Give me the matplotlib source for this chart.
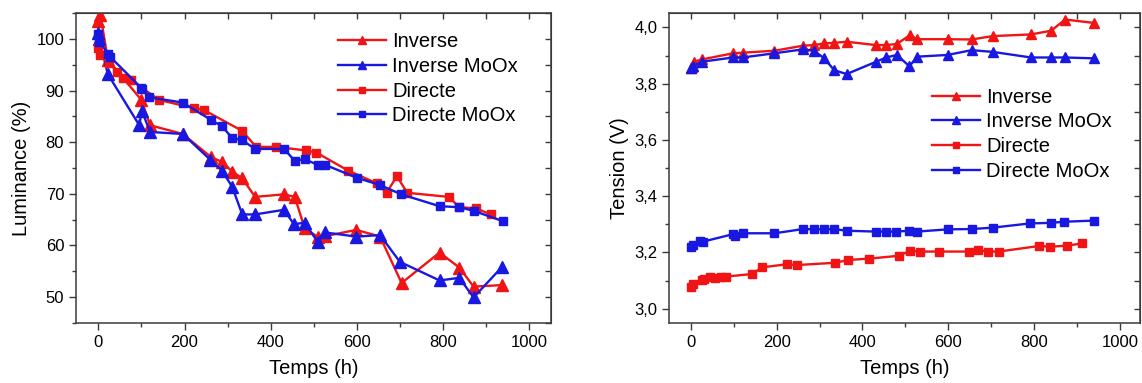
import matplotlib
matplotlib.use("Agg")
from matplotlib import pyplot as plt
from matplotlib.ticker import MultipleLocator

plt.rcParams['font.family'] = ['Liberation Sans', 'DejaVu Sans']

RED = '#f01414'
BLUE = '#1818e0'

# --- Luminance (%) vs Temps (h) ---
lum_inv_t = [0, 5, 22, 100, 120, 196, 262, 287, 311, 334, 364, 431, 456, 479,
             510, 527, 599, 654, 704, 792, 838, 871, 938]
lum_inv = [103.5, 104.6, 96.0, 88.2, 83.3, 81.6, 77.1, 76.2, 74.3, 73.0, 69.4,
           69.9, 69.4, 63.3, 61.6, 61.8, 63.0, 61.7, 52.7, 58.6, 55.7, 52.0, 52.3]

lum_inv_mo_t = [0, 2, 22, 95, 101, 120, 196, 260, 287, 311, 334, 364, 431, 454,
                479, 509, 527, 599, 654, 700, 792, 838, 871, 938]
lum_inv_mo = [101.1, 100.1, 93.2, 83.3, 86.1, 82.0, 81.6, 76.6, 74.5, 71.3, 66.0,
              66.0, 66.9, 64.1, 64.4, 60.7, 62.5, 61.7, 62.0, 56.8, 53.2, 53.7,
              49.9, 55.9]

lum_dir_t = [0, 3, 25, 44, 57, 75, 141, 223, 246, 334, 366, 413, 483, 506, 580,
             647, 669, 693, 717, 813, 838, 876, 911]
lum_dir = [98.2, 96.9, 95.3, 93.7, 92.4, 92.1, 88.2, 86.6, 86.2, 82.2, 79.1,
           79.1, 78.4, 78.0, 74.5, 72.0, 70.2, 73.4, 70.2, 69.4, 67.4, 67.2, 66.0]

lum_dir_mo_t = [0, 2, 23, 27, 99, 101, 118, 196, 262, 287, 311, 334, 364, 431,
                456, 479, 510, 527, 600, 654, 703, 792, 838, 871, 939]
lum_dir_mo = [101.0, 99.5, 97.2, 96.6, 90.6, 90.4, 88.7, 87.7, 84.3, 83.1, 80.8,
              80.4, 78.7, 78.7, 76.4, 76.7, 75.6, 75.6, 73.1, 71.7, 69.9, 67.6,
              67.4, 66.7, 64.7]

# --- Tension (V) vs Temps (h) ---
ten_inv_t = [0, 2, 8, 26, 99, 121, 195, 262, 287, 311, 334, 363, 432, 455, 480,
             511, 526, 598, 654, 703, 792, 839, 872, 938]
ten_inv = [3.855, 3.860, 3.878, 3.886, 3.908, 3.910, 3.917, 3.935, 3.937, 3.943,
           3.945, 3.949, 3.937, 3.937, 3.941, 3.973, 3.958, 3.958, 3.957, 3.969,
           3.975, 3.988, 4.028, 4.016]

ten_inv_mo_t = [0, 5, 26, 99, 121, 195, 262, 287, 311, 334, 363, 432, 455, 480,
                509, 528, 598, 654, 703, 792, 839, 872, 938]
ten_inv_mo = [3.854, 3.862, 3.878, 3.893, 3.893, 3.908, 3.922, 3.917, 3.890,
              3.848, 3.834, 3.878, 3.893, 3.902, 3.862, 3.896, 3.902, 3.919,
              3.913, 3.893, 3.893, 3.893, 3.890]

ten_dir_t = [0, 5, 26, 30, 45, 57, 70, 82, 142, 167, 225, 247, 336, 367, 416,
             485, 511, 534, 579, 647, 670, 692, 717, 812, 837, 876, 911]
ten_dir = [3.078, 3.088, 3.102, 3.104, 3.112, 3.110, 3.112, 3.114, 3.123, 3.147,
           3.158, 3.155, 3.163, 3.173, 3.178, 3.188, 3.206, 3.203, 3.203, 3.203,
           3.208, 3.203, 3.203, 3.223, 3.220, 3.224, 3.232]

ten_dir_mo_t = [0, 6, 22, 28, 99, 103, 121, 195, 262, 287, 311, 334, 363, 432,
                455, 479, 509, 526, 600, 654, 703, 790, 838, 870, 938]
ten_dir_mo = [3.218, 3.226, 3.242, 3.238, 3.265, 3.259, 3.268, 3.268, 3.283,
              3.282, 3.282, 3.283, 3.277, 3.274, 3.274, 3.274, 3.277, 3.274,
              3.282, 3.283, 3.288, 3.303, 3.305, 3.309, 3.313]

labels = ['Inverse', 'Inverse MoOx', 'Directe', 'Directe MoOx']


def style_axes(ax, ymajor, yminor):
    for sp in ax.spines.values():
        sp.set_color('#3a3a3a')
        sp.set_linewidth(1.1)
    ax.xaxis.set_major_locator(MultipleLocator(200))
    ax.xaxis.set_minor_locator(MultipleLocator(100))
    ax.yaxis.set_major_locator(MultipleLocator(ymajor))
    ax.yaxis.set_minor_locator(MultipleLocator(yminor))
    ax.tick_params(which='both', direction='out', color='#3a3a3a',
                   labelsize=12, width=1.0, top=False, right=False)
    ax.tick_params(which='major', length=5)
    ax.tick_params(which='minor', length=3)
    # mirrored ticks pointing inward on top and right
    top = ax.secondary_xaxis('top')
    top.xaxis.set_major_locator(MultipleLocator(100))
    top.tick_params(direction='in', length=4, width=1.0, color='#3a3a3a',
                    labeltop=False)
    top.spines['top'].set_color('#3a3a3a')
    right = ax.secondary_yaxis('right')
    right.yaxis.set_major_locator(MultipleLocator(yminor))
    right.tick_params(direction='in', length=4, width=1.0, color='#3a3a3a',
                      labelright=False)
    right.spines['right'].set_color('#3a3a3a')


def draw(ax, series):
    for (t, v, col, mk, ms), lab in zip(series, labels):
        ax.plot(t, v, color=col, marker=mk, markersize=ms, linewidth=1.7,
                label=lab)


fig = plt.figure(figsize=(11.42, 3.83), dpi=100)
ax1 = fig.add_axes([0.0665, 0.1574, 0.4157, 0.8078])
ax2 = fig.add_axes([0.586, 0.1574, 0.4122, 0.8078])

draw(ax1, [(lum_inv_t, lum_inv, RED, '^', 8),
           (lum_inv_mo_t, lum_inv_mo, BLUE, '^', 8),
           (lum_dir_t, lum_dir, RED, 's', 6),
           (lum_dir_mo_t, lum_dir_mo, BLUE, 's', 6)])
ax1.set_xlim(-52, 1050)
ax1.set_ylim(45, 105)
style_axes(ax1, 10, 5)
ax1.set_xlabel('Temps (h)', fontsize=14.5, labelpad=7)
ax1.set_ylabel('Luminance (%)', fontsize=14.5, labelpad=4)

draw(ax2, [(ten_inv_t, ten_inv, RED, '^', 7.5),
           (ten_inv_mo_t, ten_inv_mo, BLUE, '^', 7.5),
           (ten_dir_t, ten_dir, RED, 's', 6),
           (ten_dir_mo_t, ten_dir_mo, BLUE, 's', 6)])
ax2.set_xlim(-50, 1046)
ax2.set_ylim(2.95, 4.05)
style_axes(ax2, 0.2, 0.1)
ax2.yaxis.set_major_formatter(matplotlib.ticker.FuncFormatter(
    lambda v, p: ('%.1f' % v).replace('.', ',')))
ax2.set_xlabel('Temps (h)', fontsize=14.5, labelpad=7)
ax2.set_ylabel('Tension (V)', fontsize=14.5, labelpad=4)

for ax, anchor in [(ax1, (0.552, 0.94)), (ax2, (0.5575, 0.76))]:
    leg = ax.legend(loc='upper left', bbox_to_anchor=anchor, frameon=False,
                    fontsize=14.5, borderpad=0, borderaxespad=0,
                    labelspacing=0.29, handlelength=2.4, handletextpad=0.3,
                    markerscale=0.7)

fig.savefig('out.png', dpi=100)
